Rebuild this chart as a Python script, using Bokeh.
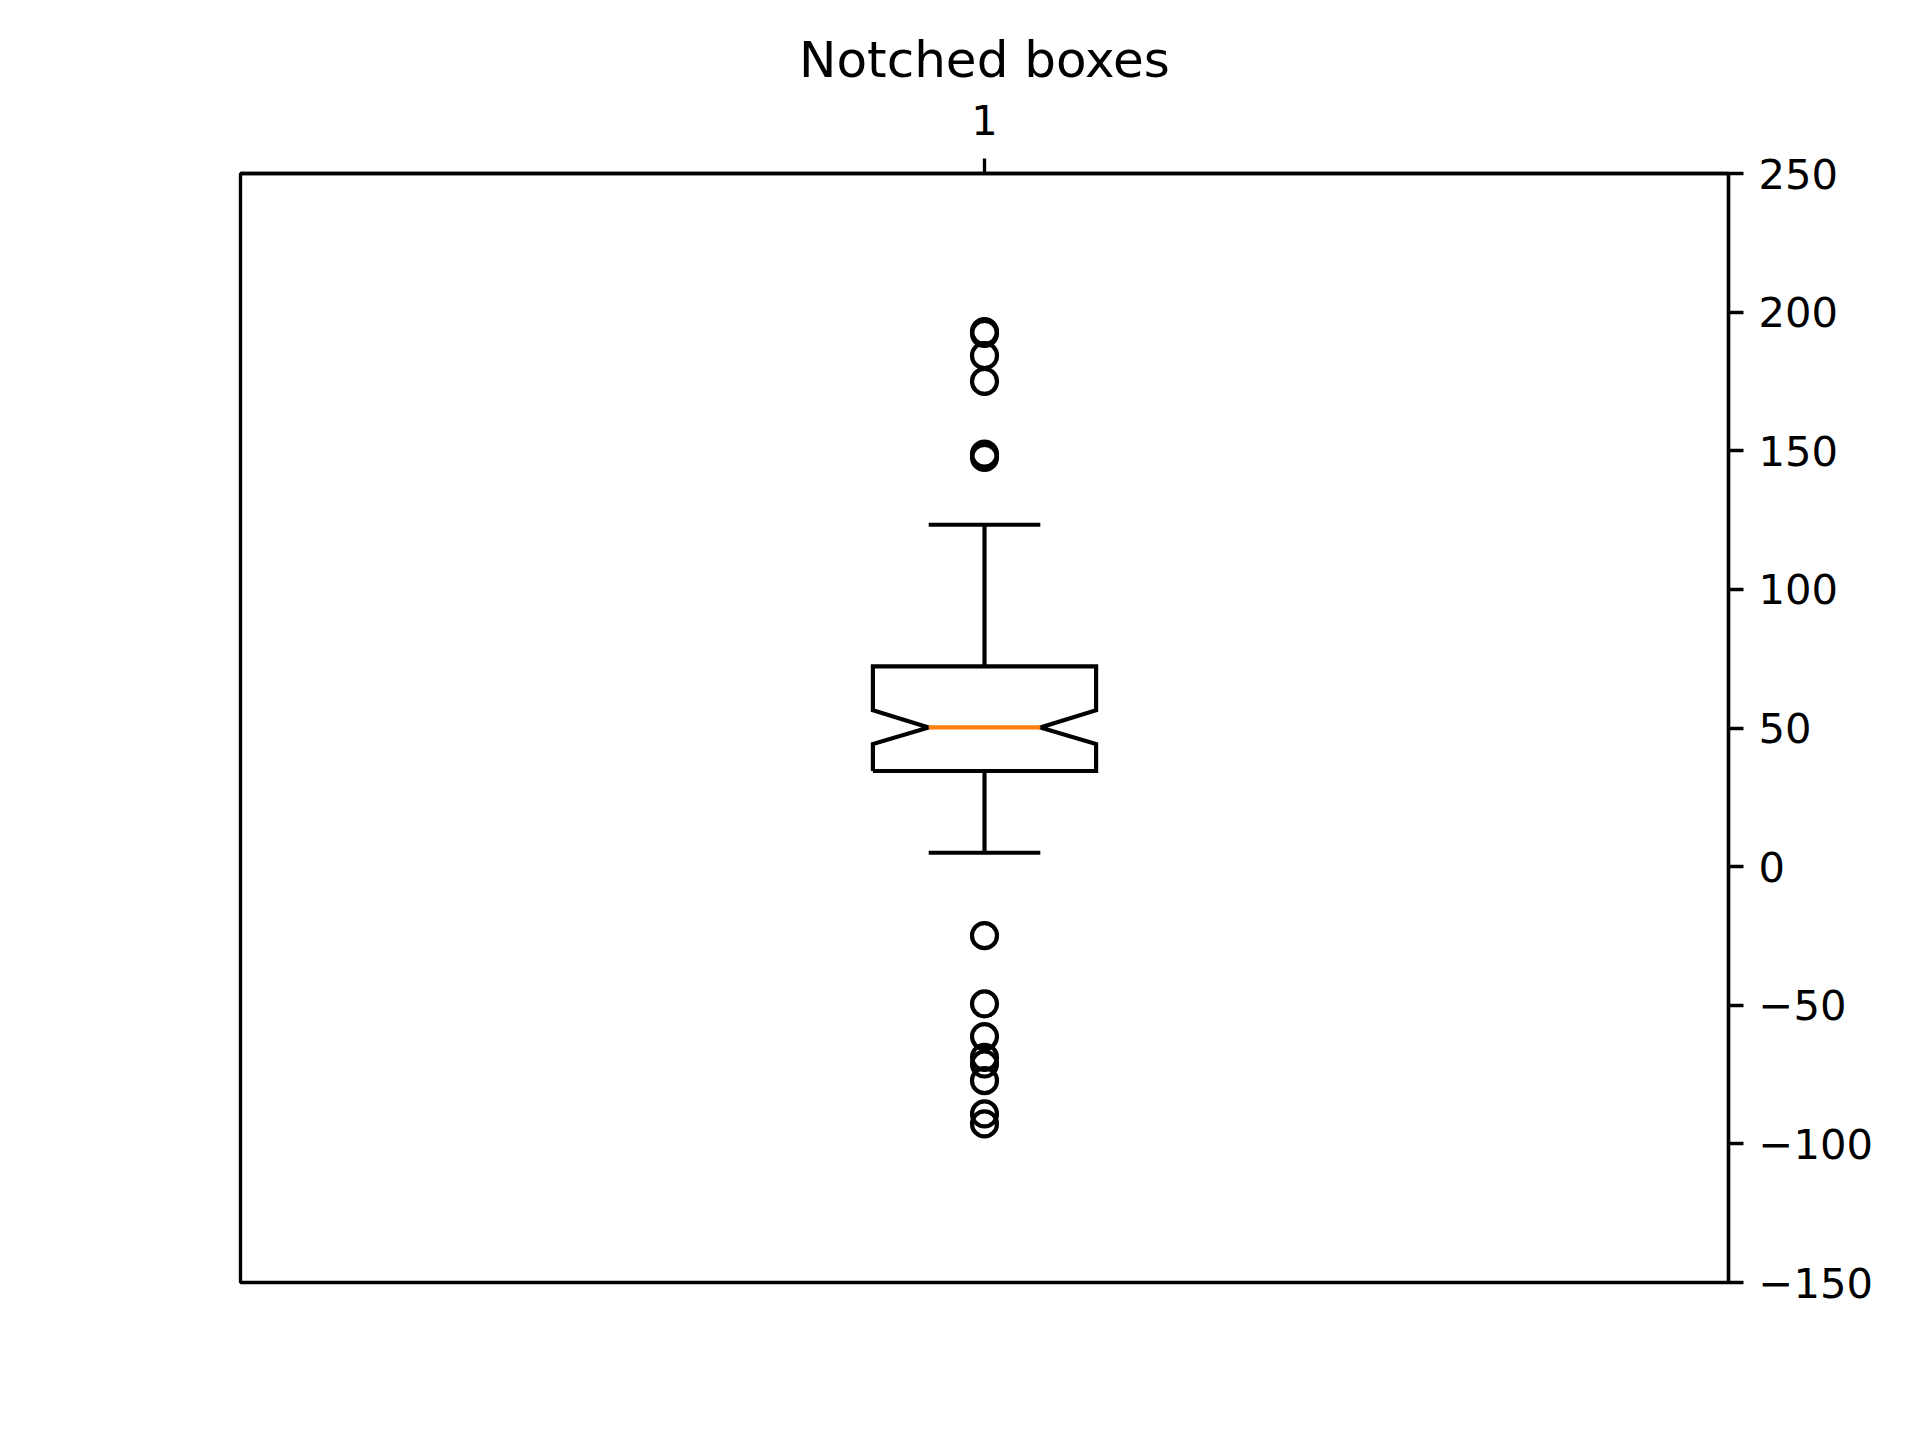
from bokeh.plotting import figure
from bokeh.models import FixedTicker, ColumnDataSource
from bokeh.embed import file_html
from bokeh.resources import INLINE

# ---- data ----
positions = [1]
q1 = [34.5]
median = [50.2]
q3 = [72.2]
notch_lo = [44.2]
notch_hi = [56.4]
whisker_lo = [5.0]
whisker_hi = [123.3]
fliers = [193.0, 192.3, 184.3, 175.0, 148.8, 147.6,
          -24.9, -49.5, -61.3, -68.8, -71.2, -77.2, -89.2, -92.8]
y_ticks = [-150, -100, -50, 0, 50, 100, 150, 200, 250]
x_tick_labels = ["1"]
title_text = "Notched boxes"

BOX_W = 0.15
LW = 4.17
SPINE = 3.33
FONT = "DejaVu Sans"

p = figure(width=1920, height=1440, output_backend="svg", toolbar_location=None,
           x_range=(0.5, 1.5), y_range=(-150, 250),
           x_axis_location="above", y_axis_location="right",
           min_border_left=240, min_border_right=192,
           min_border_top=173, min_border_bottom=158,
           title=title_text)
p.background_fill_color = "white"
p.border_fill_color = "white"
p.outline_line_color = "black"
p.outline_line_width = SPINE
p.xgrid.visible = False
p.ygrid.visible = False

p.title.text_font = FONT
p.title.text_font_size = "50px"
p.title.text_font_style = "normal"
p.title.text_color = "black"
p.title.align = "center"
p.title.standoff = 25

for ax in (p.xaxis[0], p.yaxis[0]):
    ax.axis_line_color = "black"
    ax.axis_line_width = SPINE
    ax.major_tick_line_color = "black"
    ax.major_tick_line_width = SPINE
    ax.major_tick_out = 15
    ax.major_tick_in = 0
    ax.minor_tick_line_color = None
    ax.major_label_text_font = FONT
    ax.major_label_text_font_size = "41.7px"
    ax.major_label_text_color = "black"
    ax.major_label_standoff = 15

p.xaxis[0].major_label_standoff = 24
p.xaxis[0].ticker = FixedTicker(ticks=positions)
p.xaxis[0].major_label_overrides = {pos: lab for pos, lab in zip(positions, x_tick_labels)}
p.yaxis[0].ticker = FixedTicker(ticks=y_ticks)
p.yaxis[0].major_label_overrides = {t: str(t).replace("-", "\u2212") for t in y_ticks}

for i, pos in enumerate(positions):
    x0, x1 = pos - BOX_W / 2, pos + BOX_W / 2
    c0, c1 = pos - BOX_W / 4, pos + BOX_W / 4
    xs = [x0, x1, x1, c1, x1, x1, x0, x0, c0, x0, x0]
    ys = [q1[i], q1[i], notch_lo[i], median[i], notch_hi[i], q3[i], q3[i],
          notch_hi[i], median[i], notch_lo[i], q1[i]]
    p.line(xs, ys, line_color="black", line_width=LW, line_join="miter")
    # whiskers
    p.segment(x0=[pos, pos], y0=[q1[i], q3[i]], x1=[pos, pos], y1=[whisker_lo[i], whisker_hi[i]],
              line_color="black", line_width=LW)
    # caps
    p.segment(x0=[c0, c0], y0=[whisker_lo[i], whisker_hi[i]], x1=[c1, c1],
              y1=[whisker_lo[i], whisker_hi[i]], line_color="black", line_width=LW)
    # median
    p.segment(x0=[c0], y0=[median[i]], x1=[c1], y1=[median[i]],
              line_color="#ff7f0e", line_width=LW)
    # fliers
    src = ColumnDataSource(dict(x=[pos] * len(fliers), y=fliers))
    p.scatter("x", "y", source=src, marker="circle", size=25, fill_color=None,
              line_color="black", line_width=LW)

open("out.html", "w").write(file_html(p, INLINE))
